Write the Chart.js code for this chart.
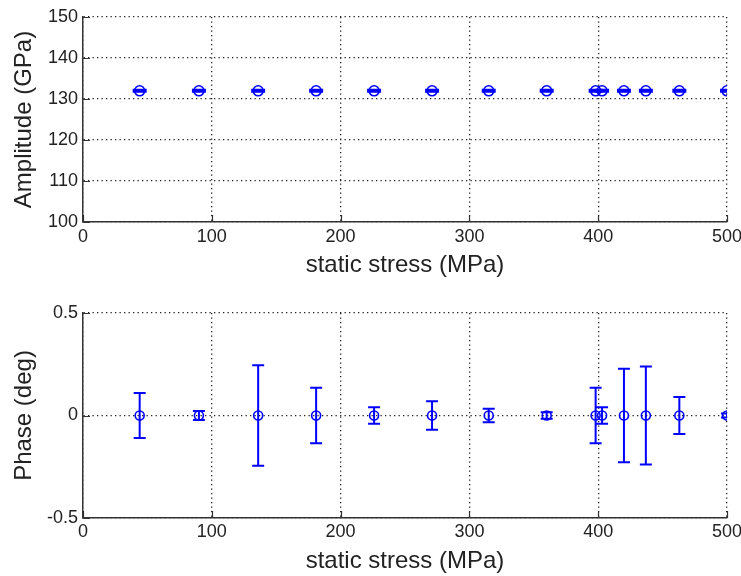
<!DOCTYPE html>
<html>
<head>
<meta charset="utf-8">
<script src="https://cdn.jsdelivr.net/npm/chart.js@4/dist/chart.umd.min.js"></script>
<style>
  body { margin: 0; background: #fff; }
  .box { position: absolute; left: 0; width: 741px; }
  #top { top: 0; height: 290px; }
  #bottom { top: 290px; height: 286px; }
</style>
</head>
<body>
<div class="box" id="top"><canvas id="ampChart"></canvas></div>
<div class="box" id="bottom"><canvas id="phaseChart"></canvas></div>
<script>
// values
const stressMPa    = [44, 90, 136, 181, 226, 271, 315, 360, 398, 403, 420, 437, 463, 500];
const amplitudeGPa = [132, 132, 132, 132, 132, 132, 132, 132, 132, 132, 132, 132, 132, 132];
const amplitudeErr = [0.25, 0.25, 0.25, 0.25, 0.25, 0.25, 0.25, 0.25, 0.25, 0.25, 0.25, 0.25, 0.25, 0.25];
const phaseDeg     = [0, 0, 0, 0, 0, 0, 0, 0, 0, 0, 0, 0, 0, 0];
const phaseErr     = [0.11, 0.022, 0.245, 0.135, 0.04, 0.07, 0.033, 0.016, 0.135, 0.04, 0.228, 0.239, 0.09, 0.01];

const stressTicks = [0, 100, 200, 300, 400, 500];
const ampTicks    = [100, 110, 120, 130, 140, 150];
const phaseTicks  = [-0.5, 0, 0.5];

const blue = '#0000ff';
const axisColor = '#333';
const gridColor = '#222';
const fontFamily = "'Liberation Sans', Arial, sans-serif";

const toPoints = (xs, ys) => xs.map((x, i) => ({ x, y: ys[i] }));

// vertical error bars with caps, placed through the chart's own scales
const errorBars = {
  id: 'errorBars',
  afterDatasetsDraw(chart, args, opts) {
    const { ctx, chartArea: a, scales: { x, y } } = chart;
    ctx.save();
    ctx.beginPath();
    ctx.rect(a.left, a.top, a.width, a.height);
    ctx.clip();
    ctx.strokeStyle = blue;
    ctx.lineWidth = 2;
    chart.data.datasets[0].data.forEach((p, i) => {
      const e = opts.errors[i];
      const px = x.getPixelForValue(p.x);
      const hi = y.getPixelForValue(p.y + e);
      const lo = y.getPixelForValue(p.y - e);
      ctx.beginPath();
      ctx.moveTo(px, hi); ctx.lineTo(px, lo);
      ctx.moveTo(px - opts.cap, hi); ctx.lineTo(px + opts.cap, hi);
      ctx.moveTo(px - opts.cap, lo); ctx.lineTo(px + opts.cap, lo);
      ctx.stroke();
    });
    ctx.restore();
  }
};

// matlab style ticks pointing into the axes
const inwardTicks = {
  id: 'inwardTicks',
  afterDraw(chart) {
    const { ctx, chartArea: a, scales: { x, y } } = chart;
    ctx.save();
    ctx.strokeStyle = axisColor;
    ctx.lineWidth = 1.2;
    ctx.beginPath();
    x.ticks.forEach(t => {
      const px = Math.round(x.getPixelForValue(t.value)) + 0.5;
      ctx.moveTo(px, a.bottom); ctx.lineTo(px, a.bottom - 7);
    });
    y.ticks.forEach(t => {
      const py = Math.round(y.getPixelForValue(t.value)) + 0.5;
      ctx.moveTo(a.left, py); ctx.lineTo(a.left + 7, py);
    });
    ctx.stroke();
    ctx.restore();
  }
};

const makeOptions = (cfg) => ({
  responsive: true,
  maintainAspectRatio: false,
  animation: false,
  layout: { padding: { top: cfg.top, right: 14, left: 0, bottom: 0 } },
  plugins: {
    legend: { display: false },
    tooltip: { enabled: false },
    errorBars: { errors: cfg.errors, cap: cfg.cap }
  },
  scales: {
    x: {
      type: 'linear', min: 0, max: 500,
      afterBuildTicks: s => { s.ticks = stressTicks.map(v => ({ value: v })); },
      ticks: { color: '#222', padding: cfg.xTickPad, font: { family: fontFamily, size: 18 }, maxRotation: 0 },
      grid: { color: gridColor, lineWidth: 1.3, drawTicks: false },
      border: { color: axisColor, width: 1.5, dash: [1.3, 3.2] },
      title: { display: true, text: 'static stress (MPa)', color: '#222',
               font: { family: fontFamily, size: 24 }, padding: { top: 0, bottom: cfg.xTitlePad } },
      afterFit: s => { s.height = cfg.xHeight; s.paddingLeft = 0; s.paddingRight = 0; }
    },
    y: {
      type: 'linear', min: cfg.yMin, max: cfg.yMax,
      afterBuildTicks: s => { s.ticks = cfg.yTicks.map(v => ({ value: v })); },
      ticks: { color: '#222', padding: 5, font: { family: fontFamily, size: 18 } },
      grid: { color: gridColor, lineWidth: 1.3, drawTicks: false },
      border: { color: axisColor, width: 1.5, dash: [1.3, 3.2] },
      title: { display: true, text: cfg.yTitle, color: '#222',
               font: { family: fontFamily, size: 24 }, padding: { top: 10, bottom: 0 } },
      afterFit: s => { s.width = 83; s.paddingTop = 0; s.paddingBottom = 0; }
    }
  }
});

const makeDataset = (ys, r) => ({
  data: toPoints(stressMPa, ys),
  showLine: false,
  pointStyle: 'circle',
  pointRadius: r,
  pointBorderWidth: 1.6,
  pointBorderColor: blue,
  pointBackgroundColor: 'rgba(0,0,0,0)'
});

new Chart(document.getElementById('ampChart'), {
  type: 'scatter',
  data: { datasets: [makeDataset(amplitudeGPa, 5)] },
  options: makeOptions({
    top: 17, xHeight: 68, xTickPad: 4, xTitlePad: 10,
    yMin: 100, yMax: 150, yTicks: ampTicks, yTitle: 'Amplitude (GPa)',
    errors: amplitudeErr, cap: 7
  }),
  plugins: [errorBars, inwardTicks]
});

new Chart(document.getElementById('phaseChart'), {
  type: 'scatter',
  data: { datasets: [makeDataset(phaseDeg, 4.5)] },
  options: makeOptions({
    top: 23, xHeight: 58, xTickPad: 3, xTitlePad: 0,
    yMin: -0.5, yMax: 0.5, yTicks: phaseTicks, yTitle: 'Phase (deg)',
    errors: phaseErr, cap: 6
  }),
  plugins: [errorBars, inwardTicks]
});
</script>
</body>
</html>
